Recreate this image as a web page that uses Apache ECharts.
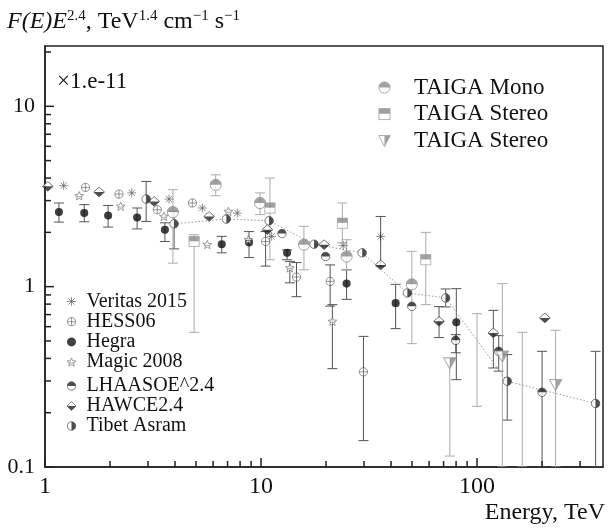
<!DOCTYPE html>
<html><head><meta charset="utf-8">
<script src="https://cdn.jsdelivr.net/npm/echarts@6/dist/echarts.min.js"></script>
<style>html,body{margin:0;padding:0;background:#fff}#c{width:614px;height:531px}</style>
</head><body><div id="c"></div>
<script>
// ---------- data (energies in TeV, flux ×1e-11) ----------
const veritasE = [1.22, 2.52, 3.75, 5.35, 7.77, 11.2, 24.0, 35.8];
const veritasF = [3.63, 3.31, 3.06, 2.73, 2.56, 1.90, 1.69, 1.90];
const hessE = [1.54, 2.20, 3.31, 4.81, 10.5, 14.6, 20.9, 29.8];
const hessF = [3.55, 3.26, 2.67, 2.91, 1.78, 1.13, 1.07, 0.337];
const hegraE = [1.16, 1.52, 1.96, 2.67, 3.59, 6.58, 8.80, 13.2, 24.9, 42.0, 80.2];
const hegraF = [2.59, 2.56, 2.48, 2.42, 2.07, 1.72, 1.76, 1.54, 1.04, 0.81, 0.634];
const magicE = [1.44, 2.24, 3.55, 5.64, 7.06, 8.74, 13.6, 21.4];
const magicF = [3.19, 2.79, 2.45, 1.71, 2.61, 1.82, 1.27, 0.642];
const lhaasoE = [12.5, 19.9, 49.9, 79.7, 126, 200];
const lhaasoF = [1.97, 1.47, 0.778, 0.504, 0.438, 0.26];
const hawcE = [1.03, 1.78, 3.20, 5.75, 10.7, 19.6, 35.8, 66.7, 119, 206];
const hawcF = [3.6, 3.35, 2.97, 2.45, 2.07, 1.71, 1.32, 0.642, 0.554, 0.671];
const tibetE = [2.94, 3.96, 6.91, 10.9, 17.6, 29.4, 47.6, 71.6, 138, 354];
const tibetF = [3.06, 2.23, 2.37, 2.32, 1.72, 1.54, 0.923, 0.866, 0.299, 0.225];
const monoE = [3.91, 6.17, 9.90, 15.8, 24.9, 49.9];
const monoF = [2.59, 3.67, 2.91, 1.71, 1.47, 1.03];
const stereoE = [4.90, 11.0, 23.8, 57.9];
const stereoF = [1.78, 2.73, 2.25, 1.41];
const stereo2E = [74.8, 131, 231];
const stereo2F = [0.378, 0.411, 0.286];

// error bars (dark: other experiments, gray: TAIGA)
const darkErrE  = [1.16, 1.52, 1.96, 2.67, 2.94, 3.59, 3.96, 6.58, 8.80, 10.5, 13.2, 13.6, 14.6, 20.9, 21.4, 24.9, 29.8, 35.8, 42.0, 66.7, 71.6, 79.7, 80.2, 119, 126, 138, 200, 354];
const darkErrLo = [2.28, 2.29, 2.14, 2.09, 2.30, 1.78, 1.62, 1.54, 1.45, 1.30, 1.41, 1.05, 0.88, 0.78, 0.351, 0.85, 0.14, 1.30, 0.585, 0.522, 0.772, 0.43, 0.305, 0.354, 0.34, 0.182, 0.1, 0.1];
const darkErrHi = [2.91, 2.85, 2.82, 2.73, 3.83, 2.26, 2.6, 1.90, 2.02, 2.02, 1.60, 1.38, 1.36, 1.32, 0.795, 1.24, 0.53, 2.45, 1.03, 0.775, 0.971, 0.542, 0.975, 0.739, 0.535, 0.42, 0.438, 0.438];
const grayErrE  = [3.91, 4.90, 6.17, 9.90, 11.0, 15.8, 23.8, 24.9, 49.9, 57.9, 74.8, 100, 131, 162, 231];
const grayErrLo = [1.35, 0.558, 3.19, 2.51, 1.41, 1.24, 1.75, 1.24, 0.483, 0.795, 0.115, 0.217, 0.1, 0.1, 0.1];
const grayErrHi = [3.45, 1.94, 4.17, 3.31, 4.0, 2.16, 2.91, 1.82, 1.57, 2.0, 0.40, 0.708, 1.04, 0.558, 0.573];

// ticks
const xTickValues = [1, 10, 100];
const xTickLabels = ['1', '10', '100'];
const xMinorValues = [2,3,4,5,6,7,8,9,20,30,40,50,60,70,80,90,200,300];
const yTickValues = [0.1, 1, 10];
const yTickLabels = ['0.1', '1', '10'];
const yMinorValues = [0.2,0.3,0.4,0.5,0.6,0.7,0.8,0.9,2,3,4,5,6,7,8,9,20];

// ---------- chart ----------
const FONT = '"Liberation Serif", "Times New Roman", serif';
const X_MIN = 1, X_MAX = 383, Y_MIN = 0.1, Y_MAX = 21.6;
const L = Math.log10;

function svgIcon(body) {
  return 'image://data:image/svg+xml;charset=utf-8,' + encodeURIComponent(
    '<svg xmlns="http://www.w3.org/2000/svg" width="60" height="60" viewBox="0 0 20 20">' + body + '</svg>');
}
const SYM = {
  veritas: svgIcon('<g stroke="#333" stroke-width="1.4" stroke-linecap="round"><line x1="10" y1="2" x2="10" y2="18"/><line x1="2" y1="10" x2="18" y2="10"/><line x1="4.3" y1="4.3" x2="15.7" y2="15.7"/><line x1="15.7" y1="4.3" x2="4.3" y2="15.7"/></g>'),
  hess: svgIcon('<circle cx="10" cy="10" r="8.3" fill="#fff" stroke="#333" stroke-width="1.3"/><line x1="1.7" y1="10" x2="18.3" y2="10" stroke="#333" stroke-width="1.2"/><line x1="10" y1="1.7" x2="10" y2="18.3" stroke="#333" stroke-width="1.2"/>'),
  hegra: svgIcon('<circle cx="10" cy="10" r="9" fill="#111"/>'),
  magic: svgIcon('<polygon points="10,1.5 12.4,7.4 18.8,7.6 13.8,11.7 15.5,18.3 10,14.6 4.5,18.3 6.2,11.7 1.2,7.6 7.6,7.4" fill="#fff" stroke="#444" stroke-width="1.3"/><line x1="4" y1="11.5" x2="16" y2="11.5" stroke="#444" stroke-width="1"/>'),
  lhaaso: svgIcon('<circle cx="10" cy="10" r="8.5" fill="#fff" stroke="#222" stroke-width="1.5"/><path d="M1.5,10 A8.5,8.5 0 0 1 18.5,10 Z" fill="#222"/>'),
  hawc: svgIcon('<polygon points="10,1.2 19,10 10,18.8 1,10" fill="#fff" stroke="#222" stroke-width="1.4"/><polygon points="1,10 19,10 10,18.8" fill="#222"/>'),
  tibet: svgIcon('<circle cx="10" cy="10" r="8.5" fill="#fff" stroke="#222" stroke-width="1.5"/><path d="M10,1.5 A8.5,8.5 0 0 1 10,18.5 Z" fill="#222"/>'),
  mono: svgIcon('<circle cx="10" cy="10" r="8.6" fill="#fff" stroke="#8a8a8a" stroke-width="1.5"/><path d="M1.4,10 A8.6,8.6 0 0 1 18.6,10 Z" fill="#8a8a8a"/>'),
  stereo: svgIcon('<rect x="1.5" y="1.5" width="17" height="17" fill="#fff" stroke="#999" stroke-width="1.5"/><rect x="1.5" y="1.5" width="17" height="8" fill="#8a8a8a"/>'),
  stereo2: svgIcon('<polygon points="1,2 19,2 10,19" fill="#fff" stroke="#999" stroke-width="1.5"/><polygon points="10,2 19,2 10,19" fill="#8a8a8a"/>')
};

function scatter(name, E, F, sym, size) {
  return { type: 'scatter', name: name, xAxisIndex: 0, yAxisIndex: 0, z: 5, silent: true,
    symbol: sym, symbolSize: size, data: E.map((e, i) => [e, F[i]]) };
}
function errSeries(E, lo, hi, color) {
  return { type: 'custom', xAxisIndex: 0, yAxisIndex: 0, z: 2, silent: true, clip: true,
    data: E.map((e, i) => [e, lo[i], hi[i]]), encode: { x: 0, y: [1, 2] },
    renderItem: function (params, api) {
      const x = api.value(0);
      const a = api.coord([x, api.value(2)]);
      const b = api.coord([x, api.value(1)]);
      const w = 5, st = { stroke: color, lineWidth: 1 };
      return { type: 'group', children: [
        { type: 'line', shape: { x1: a[0], y1: a[1], x2: b[0], y2: b[1] }, style: st },
        { type: 'line', shape: { x1: a[0] - w, y1: a[1], x2: a[0] + w, y2: a[1] }, style: st },
        { type: 'line', shape: { x1: b[0] - w, y1: b[1], x2: b[0] + w, y2: b[1] }, style: st }
      ] };
    } };
}
// inside tick marks: thin rect symbols placed on the log axes
function tickSeries(values, isX, len) {
  return { type: 'scatter', xAxisIndex: 0, yAxisIndex: 0, z: 8, silent: true, clip: false,
    symbol: 'rect', symbolSize: isX ? [1.5, len] : [len, 1.5],
    symbolOffset: isX ? [0, -len / 2] : [len / 2, 0],
    itemStyle: { color: '#222', opacity: 1 },
    data: values.map(v => isX ? [v, Y_MIN] : [X_MIN, v]) };
}
function labelOf(values, labels) {
  return function (v) {
    for (let i = 0; i < values.length; i++) if (Math.abs(L(values[i]) - v) < 1e-6) return labels[i];
    return '';
  };
}

const chart = echarts.init(document.getElementById('c'), null, { renderer: 'canvas' });
const base = { fontFamily: FONT, color: '#111', fontWeight: 'normal' };
chart.setOption({
  animation: false,
  backgroundColor: '#fff',
  grid: { left: 45, right: 11, top: 46, bottom: 64, show: true, borderColor: '#222', borderWidth: 1.5,
          containLabel: false, outerBoundsMode: 'none' },
  title: [
    { text: '{i|F(E)E}{s|2.4}{n|, TeV}{s|1.4}{n| cm}{s|−1}{n| s}{s|−1}', left: 7, top: 9, padding: 0,
      textStyle: Object.assign({ fontSize: 24,
        rich: { i: Object.assign({ fontSize: 24, fontStyle: 'italic', lineHeight: 26 }, base),
                n: Object.assign({ fontSize: 24, lineHeight: 26 }, base),
                s: Object.assign({ fontSize: 15, verticalAlign: 'top' }, base) } }, base) },
    { text: '×1.e-11', left: 57, top: 70, padding: 0,
      textStyle: Object.assign({ fontSize: 23, lineHeight: 24 }, base) },
    { text: 'Energy, TeV', right: 9, top: 500, padding: 0,
      textStyle: Object.assign({ fontSize: 24, lineHeight: 26 }, base) }
  ],
  legend: [
    { orient: 'vertical', left: 378, top: 74.5, itemWidth: 13, itemHeight: 13, itemGap: 0.6, selectedMode: false, padding: 0,
      textStyle: Object.assign({ fontSize: 23, lineHeight: 26, padding: [0, 0, 0, 18] }, base),
      data: [{ name: 'TAIGA Mono', icon: SYM.mono }, { name: 'TAIGA Stereo', icon: SYM.stereo }, { name: 'TAIGA Stereo ', icon: SYM.stereo2 }] },
    { orient: 'vertical', left: 66.5, top: 291.5, itemWidth: 10, itemHeight: 10, itemGap: 0.2, selectedMode: false, padding: 0,
      textStyle: Object.assign({ fontSize: 20, lineHeight: 17, padding: [0, 0, 0, 5] }, base),
      data: [{ name: 'Veritas 2015', icon: SYM.veritas }, { name: 'HESS06', icon: SYM.hess }, { name: 'Hegra', icon: SYM.hegra }, { name: 'Magic 2008', icon: SYM.magic }] },
    { orient: 'vertical', left: 66.5, top: 376, itemWidth: 10, itemHeight: 10, itemGap: 0, selectedMode: false, padding: 0,
      textStyle: Object.assign({ fontSize: 20, lineHeight: 18, padding: [0, 0, 0, 5] }, base),
      data: [{ name: 'LHAASOE^2.4', icon: SYM.lhaaso }, { name: 'HAWCE2.4', icon: SYM.hawc }, { name: 'Tibet Asram', icon: SYM.tibet }] }
  ],
  xAxis: [
    { type: 'log', logBase: 10, min: X_MIN, max: X_MAX, show: false },
    { type: 'value', min: 0, max: L(X_MAX), position: 'bottom',
      axisLine: { show: true, onZero: false, lineStyle: { color: '#222', width: 1.5 } },
      axisTick: { show: false },
      axisLabel: { show: true, customValues: xTickValues.map(L), formatter: labelOf(xTickValues, xTickLabels),
                   fontFamily: FONT, fontSize: 24, color: '#111', margin: 8 },
      splitLine: { show: false } }
  ],
  yAxis: [
    { type: 'log', logBase: 10, min: Y_MIN, max: Y_MAX, show: false },
    { type: 'value', min: L(Y_MIN), max: L(Y_MAX), position: 'left',
      axisLine: { show: true, onZero: false, lineStyle: { color: '#222', width: 1.5 } },
      axisTick: { show: false },
      axisLabel: { show: true, customValues: yTickValues.map(L), formatter: labelOf(yTickValues, yTickLabels),
                   fontFamily: FONT, fontSize: 22, color: '#111', margin: 10 },
      splitLine: { show: false } }
  ],
  series: [
    errSeries(darkErrE, darkErrLo, darkErrHi, '#555'),
    errSeries(grayErrE, grayErrLo, grayErrHi, '#aaa'),
    tickSeries(xTickValues, true, 9),
    tickSeries(xMinorValues, true, 6),
    tickSeries(yTickValues, false, 9),
    tickSeries(yMinorValues, false, 6),
    { type: 'line', xAxisIndex: 0, yAxisIndex: 0, z: 3, silent: true, symbol: 'none',
      lineStyle: { color: '#999', width: 1, type: [1.5, 2] },
      data: tibetE.slice(1).map((e, i) => [e, tibetF[i + 1]]) },
    scatter('Veritas 2015', veritasE, veritasF, SYM.veritas, 10),
    scatter('HESS06', hessE, hessF, SYM.hess, 10),
    scatter('Hegra', hegraE, hegraF, SYM.hegra, 9),
    scatter('Magic 2008', magicE, magicF, SYM.magic, 10),
    scatter('LHAASOE^2.4', lhaasoE, lhaasoF, SYM.lhaaso, 10),
    scatter('HAWCE2.4', hawcE, hawcF, SYM.hawc, [12, 11]),
    scatter('Tibet Asram', tibetE, tibetF, SYM.tibet, 10),
    scatter('TAIGA Mono', monoE, monoF, SYM.mono, 13),
    scatter('TAIGA Stereo', stereoE, stereoF, SYM.stereo, 12),
    scatter('TAIGA Stereo ', stereo2E, stereo2F, SYM.stereo2, [14, 13])
  ]
});
</script></body></html>
